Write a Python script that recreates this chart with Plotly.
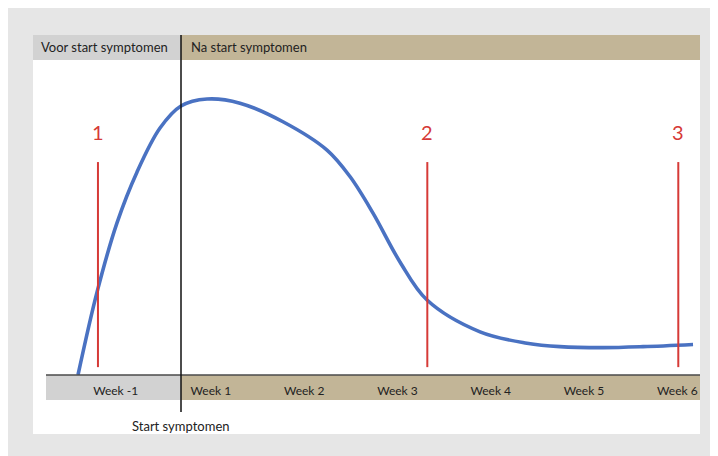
import plotly.graph_objects as go

# ---- data (x in weeks relative to symptom onset, y in arbitrary level units) ----
curve_x = [-1.104, -0.900, -0.686, -0.472, -0.225, 0.0, 0.279, 0.632, 1.093,
           1.565, 1.811, 2.058, 2.347, 2.637, 3.205, 3.708, 4.062, 4.523,
           4.952, 5.488]
curve_y = [0.0, 26.3, 48.3, 64.4, 78.4, 85.4, 87.6, 86.3, 80.4,
           71.4, 63.0, 51.4, 35.9, 23.8, 13.7, 10.1, 9.0, 8.7,
           9.0, 9.7]

marker_x = [-0.89, 2.64, 5.33]
marker_labels = ["1", "2", "3"]
marker_y_low = 2.5
marker_y_high = 67.6
marker_label_y = 77.0

tick_vals = [-0.70, 0.32, 1.32, 2.32, 3.32, 4.32, 5.32]
tick_text = ["Week -1", "Week 1", "Week 2", "Week 3", "Week 4", "Week 5", "Week 6"]

band_left_label = "Voor start symptomen"
band_right_label = "Na start symptomen"
onset_label = "Start symptomen"

# ---- geometry (reference-pixel coordinates; page body adds an 8px offset) ----
OFF = 8
W, H = 718 - OFF, 456 - OFF
PL, PR, PT, PB = 46, 700, 60, 375


def px(x):
    return (x - PL) / (PR - PL)


def py(y):
    return (PB - y) / (PB - PT)


GREY_BG = "#e6e6e6"
BAND_GREY = "#d2d2d2"
TAN = "#c2b597"
BLUE = "#4a72c2"
RED = "#d63a37"
TXT = "#222222"
FONT = "Lato"

fig = go.Figure()

fig.add_trace(go.Scatter(
    x=curve_x, y=curve_y, mode="lines",
    line=dict(color=BLUE, width=3.6, shape="spline", smoothing=1.0),
    hoverinfo="skip", showlegend=False, cliponaxis=False,
))

for mx in marker_x:
    fig.add_trace(go.Scatter(
        x=[mx, mx], y=[marker_y_low, marker_y_high], mode="lines",
        line=dict(color=RED, width=2), hoverinfo="skip", showlegend=False,
    ))

shapes = []
# white panel
shapes.append(dict(type="rect", xref="paper", yref="paper",
                   x0=px(33), x1=px(700), y0=py(434), y1=py(35),
                   fillcolor="white", line=dict(width=0), layer="below"))
# top bands
shapes.append(dict(type="rect", xref="paper", yref="paper",
                   x0=px(33), x1=px(181), y0=py(60), y1=py(35),
                   fillcolor=BAND_GREY, line=dict(width=0), layer="below"))
shapes.append(dict(type="rect", xref="paper", yref="paper",
                   x0=px(181), x1=px(700), y0=py(60), y1=py(35),
                   fillcolor=TAN, line=dict(width=0), layer="below"))
# bottom bands
shapes.append(dict(type="rect", xref="paper", yref="paper",
                   x0=px(46), x1=px(181), y0=py(400), y1=py(375),
                   fillcolor=BAND_GREY, line=dict(width=0), layer="below"))
shapes.append(dict(type="rect", xref="paper", yref="paper",
                   x0=px(181), x1=px(700), y0=py(400), y1=py(375),
                   fillcolor=TAN, line=dict(width=0), layer="below"))
# axis baseline
shapes.append(dict(type="line", xref="paper", yref="paper",
                   x0=px(46), x1=px(700), y0=0, y1=0,
                   line=dict(color="#4a4a4a", width=1.5)))
# symptom onset line (x = 0 weeks)
shapes.append(dict(type="line", xref="x", yref="paper",
                   x0=0, x1=0, y0=py(412), y1=py(35),
                   line=dict(color="#111111", width=1.5)))

annotations = [
    dict(text=band_left_label, xref="paper", yref="paper", x=px(39), y=py(47.5),
         xanchor="left", yanchor="middle", showarrow=False,
         font=dict(family=FONT, size=13, color=TXT)),
    dict(text=band_right_label, xref="paper", yref="paper", x=px(189), y=py(47.5),
         xanchor="left", yanchor="middle", showarrow=False,
         font=dict(family=FONT, size=13, color=TXT)),
    dict(text=onset_label, xref="x", yref="paper", x=0, y=py(426),
         xanchor="center", yanchor="middle", showarrow=False,
         font=dict(family=FONT, size=13, color=TXT)),
]
for mx, lab in zip(marker_x, marker_labels):
    annotations.append(dict(text=lab, x=mx, y=marker_label_y, xref="x", yref="y",
                            showarrow=False, xanchor="center", yanchor="middle",
                            font=dict(family=FONT, size=20, color=RED)))

fig.update_layout(
    width=W, height=H,
    margin=dict(l=PL - OFF, r=W - (PR - OFF), t=PT - OFF, b=H - (PB - OFF), pad=0),
    paper_bgcolor=GREY_BG, plot_bgcolor="rgba(0,0,0,0)",
    showlegend=False,
    shapes=shapes, annotations=annotations,
    xaxis=dict(range=[(PL - 181) / 93.3, (PR - 181) / 93.3], showgrid=False,
               zeroline=False, showline=False, tickmode="array",
               tickvals=tick_vals, ticktext=tick_text, ticks="outside",
               ticklen=5, tickcolor="rgba(0,0,0,0)",
               tickfont=dict(family=FONT, size=12, color=TXT), fixedrange=True),
    yaxis=dict(range=[0, 100], visible=False, fixedrange=True),
)

fig.write_html("out.html")
